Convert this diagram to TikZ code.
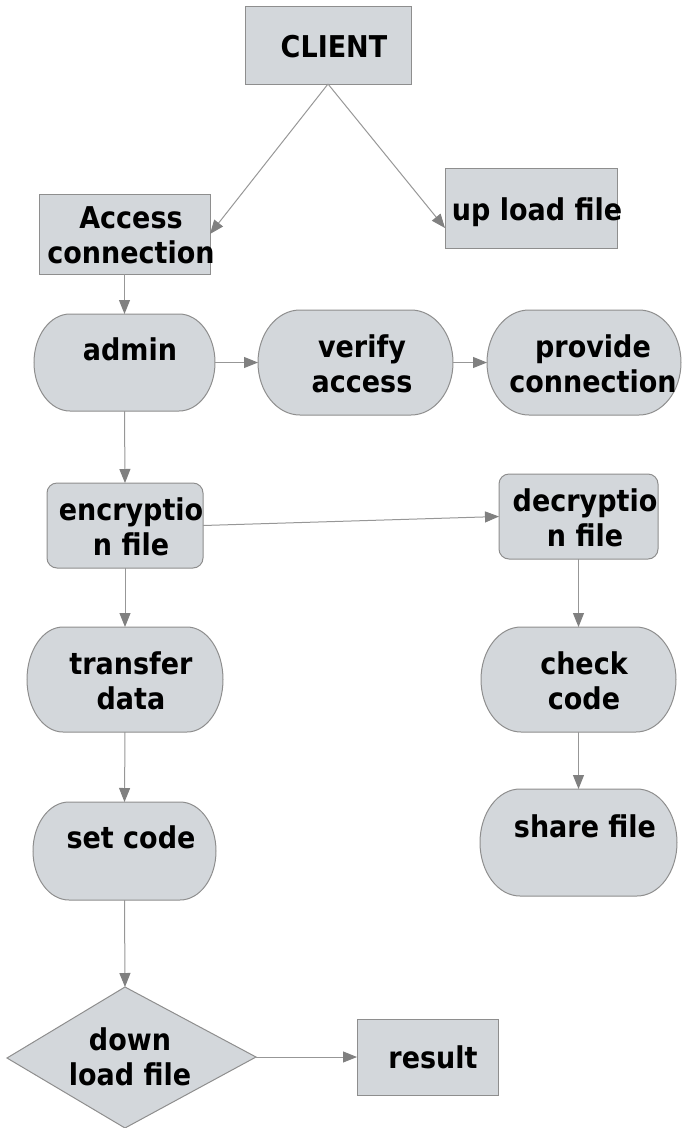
\documentclass[tikz,border=0pt]{standalone}
\usepackage{fontspec}
\newfontfamily\labfont{DejaVu Sans}[FakeStretch=0.9]
\usetikzlibrary{arrows.meta}

\definecolor{boxfill}{HTML}{D3D7DB}
\definecolor{boxline}{HTML}{8E8E8E}
\definecolor{arrowgray}{HTML}{979797}
\definecolor{tipgray}{HTML}{808080}

% two centred lines whose baseline is that of the first line
\newcommand\twolines[2]{\vtop{\baselineskip=35pt\lineskiplimit=-100pt\halign{\hfil##\hfil\cr#1\cr#2\cr}}}

% rounded terminal with elliptical ends, drawn round a named frame node
% #1 node name, #2 x radius, #3 y radius
\newcommand\stadiumpath[3]{%
  \path[outline] ([xshift=#2]#1.north west) -- ([xshift=-#2]#1.north east)
    arc[start angle=90,end angle=0,x radius=#2,y radius=#3]
    -- ([yshift=#3]#1.south east)
    arc[start angle=0,end angle=-90,x radius=#2,y radius=#3]
    -- ([xshift=#2]#1.south west)
    arc[start angle=270,end angle=180,x radius=#2,y radius=#3]
    -- ([yshift=-#3]#1.north west)
    arc[start angle=180,end angle=90,x radius=#2,y radius=#3]
    -- cycle;}

\tikzset{
  frame/.style={rectangle, draw=none, inner sep=0pt, outer sep=0pt},
  outline/.style={draw=boxline, fill=boxfill, line width=1pt},
  rectbox/.style={rectangle, outline, inner sep=0pt, outer sep=0pt},
  caption/.style={font=\labfont\bfseries\fontsize{30}{35}\selectfont,
                  inner sep=0pt, outer sep=0pt, anchor=base, text=black},
  flow/.style={draw=arrowgray, line width=1pt,
               -{Triangle[length=14pt,width=11pt,color=tipgray]}},
}

\begin{document}
\begin{tikzpicture}[x=1pt,y=1pt]
\useasboundingbox (0,0) rectangle (682,-1128);

% ---- rectangular boxes
\node[rectbox, minimum width=166pt, minimum height=78pt] (client) at (328,-45) {};
\node[rectbox, minimum width=171pt, minimum height=80pt] (access) at (124.5,-234) {};
\node[rectbox, minimum width=172pt, minimum height=80pt] (upload) at (531,-208) {};
\node[rectbox, rounded corners=10pt, minimum width=156pt, minimum height=85pt] (encrypt) at (125,-525.5) {};
\node[rectbox, rounded corners=10pt, minimum width=159pt, minimum height=85pt] (decrypt) at (578.5,-516.5) {};
\node[rectbox, minimum width=141pt, minimum height=76pt] (result) at (427.5,-1057) {};

% ---- terminals
\node[frame, minimum width=181pt, minimum height=97pt]  (admin)    at (124.5,-362.5) {};
\node[frame, minimum width=195pt, minimum height=105pt] (verify)   at (355.5,-362.5) {};
\node[frame, minimum width=194pt, minimum height=105pt] (provide)  at (584,-362.5) {};
\node[frame, minimum width=196pt, minimum height=105pt] (transfer) at (125,-679.5) {};
\node[frame, minimum width=183pt, minimum height=98pt]  (setcode)  at (124.5,-851) {};
\node[frame, minimum width=195pt, minimum height=105pt] (check)    at (578.5,-679.5) {};
\node[frame, minimum width=197pt, minimum height=107pt] (share)    at (578.5,-842.5) {};
\stadiumpath{admin}{36pt}{48.5pt}
\stadiumpath{verify}{42pt}{52.5pt}
\stadiumpath{provide}{42pt}{52.5pt}
\stadiumpath{transfer}{36pt}{52.5pt}
\stadiumpath{setcode}{36pt}{49pt}
\stadiumpath{check}{40pt}{52.5pt}
\stadiumpath{share}{40pt}{53.5pt}

% ---- decision
\coordinate (dtop) at (125,-987);
\coordinate (dright) at (256,-1057);
\coordinate (dbottom) at (125,-1128);
\coordinate (dleft) at (7,-1058);
\path[outline] (dtop) -- (dright) -- (dbottom) -- (dleft) -- cycle;

% ---- connectors
\draw[flow] (client.south) -- (access.east);
\draw[flow] (client.south) -- ([yshift=-20pt]upload.west);
\draw[flow] (access.south) -- (admin.north);
\draw[flow] (admin.east) -- (verify.west);
\draw[flow] (verify.east) -- (provide.west);
\draw[flow] (admin.south) -- (encrypt.north);
\draw[flow] (encrypt.east) -- (decrypt.west);
\draw[flow] (encrypt.south) -- (transfer.north);
\draw[flow] (transfer.south) -- (setcode.north);
\draw[flow] (setcode.south) -- (dtop);
\draw[flow] (dright) -- (result.west);
\draw[flow] (decrypt.south) -- (check.north);
\draw[flow] (check.south) -- (share.north);

% ---- labels
\node[caption] (t-client)   at (334,-57)   {CLIENT};
\node[caption] (t-access)   at (131,-228)  {\twolines{Access}{connection}};
\node[caption] (t-upload)   at (537,-220)  {up load file};
\node[caption] (t-admin)    at (130,-360)  {admin};
\node[caption] (t-verify)   at (362,-357)  {\twolines{verify}{access}};
\node[caption] (t-provide)  at (593,-357)  {\twolines{provide}{connection}};
\node[caption] (t-encrypt)  at (131,-520)  {\twolines{encryptio}{n file}};
\node[caption] (t-decrypt)  at (585,-511)  {\twolines{decryptio}{n file}};
\node[caption] (t-transfer) at (131,-674)  {\twolines{transfer}{data}};
\node[caption] (t-check)    at (584,-674)  {\twolines{check}{code}};
\node[caption] (t-setcode)  at (131,-848)  {set code};
\node[caption] (t-share)    at (585,-837)  {share file};
\node[caption] (t-down)     at (130,-1050) {\twolines{down}{load file}};
\node[caption] (t-result)   at (433,-1068) {result};
\end{tikzpicture}
\end{document}
